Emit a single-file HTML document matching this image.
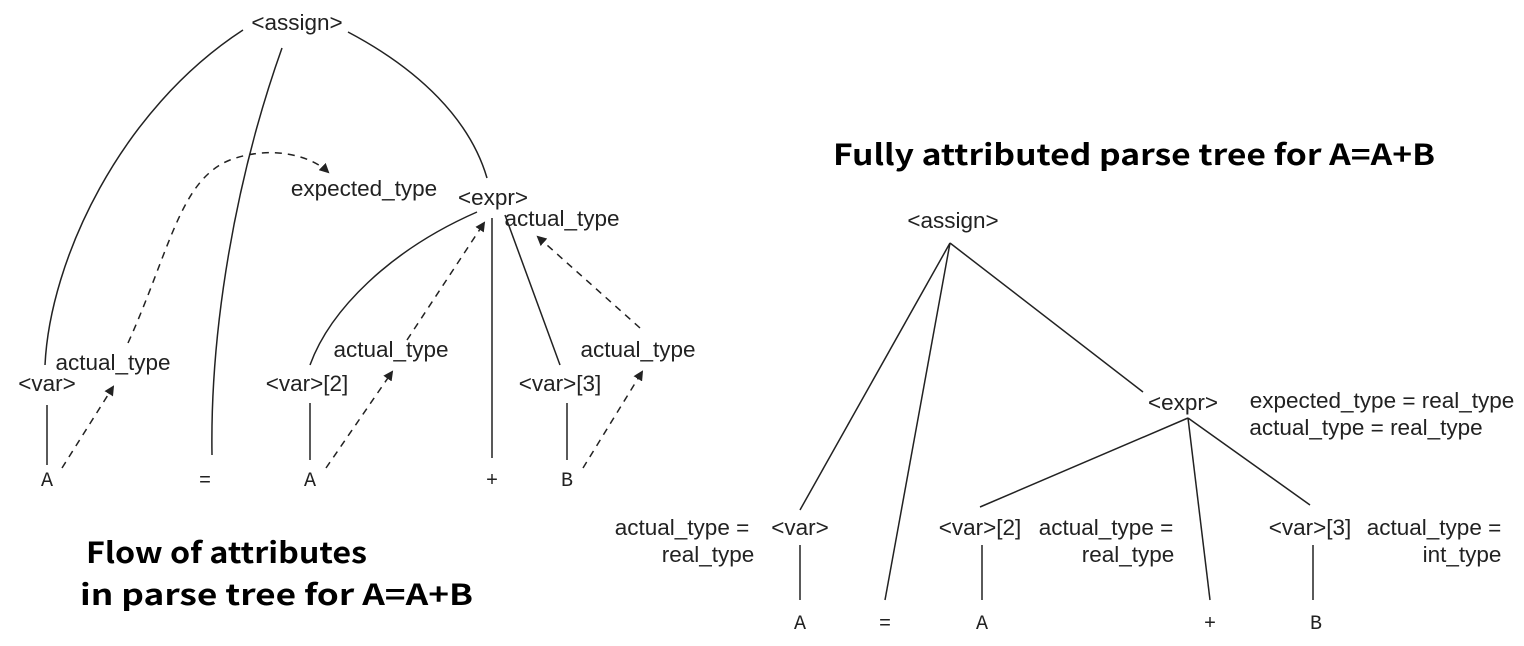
<!DOCTYPE html>
<html><head><meta charset="utf-8"><style>
body{margin:0;background:#fff;}
svg text{font-family:"Liberation Sans",sans-serif;font-size:22.5px;fill:#222;}
svg text.m{font-family:"Liberation Mono",monospace;font-size:20px;}
svg text.b{font-family:"Noto Sans CJK KR","Liberation Sans",sans-serif;font-weight:bold;font-size:29px;fill:#000;}
</style></head><body>
<svg width="1524" height="641" xmlns="http://www.w3.org/2000/svg">
<defs><marker id="ar" markerWidth="10" markerHeight="10" refX="8" refY="5" orient="auto" markerUnits="userSpaceOnUse"><path d="M0,0 L10,5 L0,10 Z" fill="#222"/></marker></defs>
<g fill="none" stroke="#222" stroke-width="1.5">
<path d="M243,30 C120,110 50,260 45,365"/>
<path d="M282,48 C235,180 210,330 212,455"/>
<path d="M348,32 C420,70 470,120 487,178"/>
<path d="M477,212 C390,250 330,310 310,365"/>
<line x1="492" y1="218" x2="492" y2="458"/>
<line x1="505" y1="215" x2="560" y2="365"/>
<line x1="47" y1="405" x2="47" y2="465"/>
<line x1="310" y1="403" x2="310" y2="460"/>
<line x1="567" y1="403" x2="567" y2="460"/>
<g stroke-dasharray="7,6">
<path d="M128,343 C170,250 180,180 230,160 C270,145 310,155 328,172" marker-end="url(#ar)"/>
<line x1="62" y1="468" x2="113" y2="387" marker-end="url(#ar)"/>
<line x1="407" y1="340" x2="484" y2="223" marker-end="url(#ar)"/>
<line x1="640" y1="328" x2="538" y2="237" marker-end="url(#ar)"/>
<line x1="326" y1="468" x2="392" y2="372" marker-end="url(#ar)"/>
<line x1="583" y1="468" x2="642" y2="372" marker-end="url(#ar)"/>
</g>
<line x1="950" y1="243" x2="800" y2="510"/>
<line x1="950" y1="243" x2="885" y2="600"/>
<line x1="950" y1="243" x2="1143" y2="392"/>
<line x1="1188" y1="418" x2="980" y2="507"/>
<line x1="1188" y1="418" x2="1210" y2="600"/>
<line x1="1188" y1="418" x2="1310" y2="505"/>
<line x1="800" y1="545" x2="800" y2="600"/>
<line x1="982" y1="545" x2="982" y2="600"/>
<line x1="1313" y1="545" x2="1313" y2="600"/>
</g>
<g text-anchor="middle">
<text x="297" y="30">&lt;assign&gt;</text>
<text x="364" y="196">expected_type</text>
<text x="493" y="205">&lt;expr&gt;</text>
<text x="562" y="226">actual_type</text>
<text x="113" y="370">actual_type</text>
<text x="47" y="391">&lt;var&gt;</text>
<text x="391" y="357">actual_type</text>
<text x="307" y="391">&lt;var&gt;[2]</text>
<text x="638" y="357">actual_type</text>
<text x="560" y="391">&lt;var&gt;[3]</text>
<text class="m" x="47" y="486">A</text>
<text class="m" x="205" y="486">=</text>
<text class="m" x="310" y="486">A</text>
<text class="m" x="492" y="486">+</text>
<text class="m" x="567" y="486">B</text>
<text x="953" y="228">&lt;assign&gt;</text>
<text x="1183" y="410">&lt;expr&gt;</text>
<text x="1382" y="408">expected_type = real_type</text>
<text x="1366" y="435">actual_type = real_type</text>
<text x="800" y="535">&lt;var&gt;</text>
<text x="682" y="535">actual_type =</text>
<text x="708" y="562">real_type</text>
<text x="980" y="535">&lt;var&gt;[2]</text>
<text x="1106" y="535">actual_type =</text>
<text x="1128" y="562">real_type</text>
<text x="1310" y="535">&lt;var&gt;[3]</text>
<text x="1434" y="535">actual_type =</text>
<text x="1462" y="562">int_type</text>
<text class="m" x="800" y="629">A</text>
<text class="m" x="885" y="629">=</text>
<text class="m" x="982" y="629">A</text>
<text class="m" x="1210" y="629">+</text>
<text class="m" x="1316" y="629">B</text>
</g>
<text class="b" x="86" y="563" textLength="281" lengthAdjust="spacingAndGlyphs">Flow of attributes</text>
<text class="b" x="80" y="605" textLength="393" lengthAdjust="spacingAndGlyphs">in parse tree for A=A+B</text>
<text class="b" x="833" y="165" textLength="602" lengthAdjust="spacingAndGlyphs">Fully attributed parse tree for A=A+B</text>
</svg>
</body></html>
